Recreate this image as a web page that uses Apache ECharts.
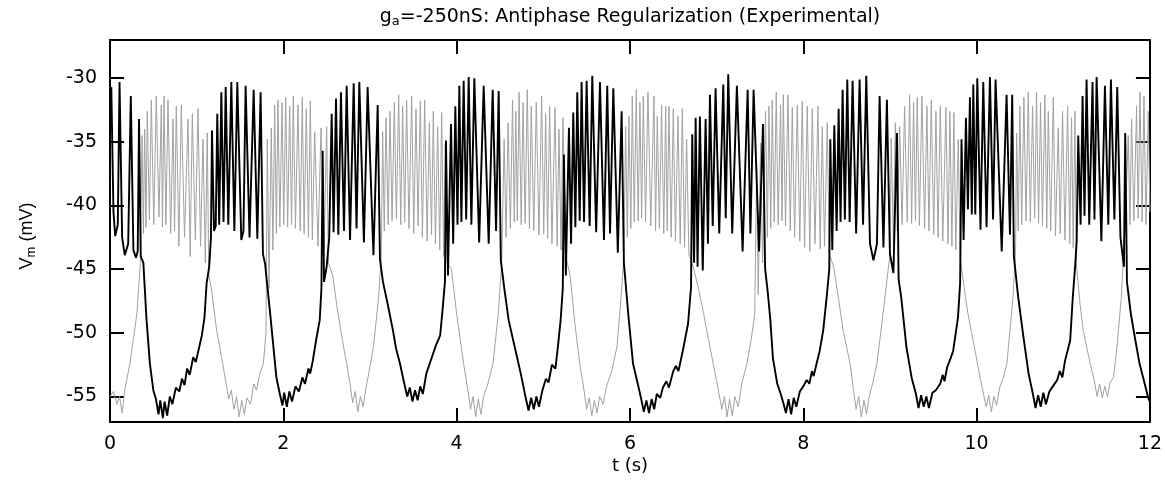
<!DOCTYPE html>
<html>
<head>
<meta charset="utf-8">
<script src="https://cdn.jsdelivr.net/npm/echarts@6/dist/echarts.min.js"></script>
<style>
  html, body { margin: 0; padding: 0; background: #fff; }
  #chart { width: 1165px; height: 483px; }
</style>
</head>
<body>
<div id="chart"></div>
<script>
// ---- Axis ticks ----
const xTicks = [0, 2, 4, 6, 8, 10, 12];
const yTicks = [-55, -50, -45, -40, -35, -30];

// ---- Black trace (neuron 1), [t (s), Vm (mV)], one array per cycle ----
const blackC1 = [[0,-31.5],[0.015,-30.7],[0.04,-40.5],[0.06,-42.4],[0.09,-41.5],[0.11,-30.3],[0.14,-42.5],[0.17,-43.9],[0.21,-43.0],[0.24,-31.4],[0.27,-43.5],[0.30,-44.1],[0.32,-43.6],[0.335,-33.2],[0.355,-44.0],[0.385,-44.5],[0.42,-48.8],[0.46,-52.4],[0.50,-54.5],[0.53,-55.2],[0.56,-56.4],[0.58,-55.3],[0.61,-56.7],[0.63,-55.4],[0.66,-56.5],[0.69,-55.0],[0.72,-55.6],[0.76,-54.3],[0.80,-54.6],[0.83,-53.6],[0.86,-54.1],[0.89,-52.8],[0.92,-53.3],[0.96,-51.9],[0.99,-52.3],[1.02,-51.4],[1.06,-50.2],[1.09,-48.8],[1.115,-46.1],[1.145,-44.8]];
const blackC2 = [[1.165,-42.5],[1.177,-34.1],[1.20,-42.0],[1.22,-41.6],[1.238,-32.8],[1.26,-41.5],[1.285,-31.1],[1.31,-41.3],[1.335,-30.7],[1.365,-41.5],[1.40,-30.3],[1.435,-42.0],[1.469,-30.3],[1.515,-42.7],[1.54,-42.0],[1.565,-30.6],[1.61,-42.5],[1.658,-30.9],[1.70,-42.6],[1.738,-31.1],[1.765,-43.8],[1.79,-44.6],[1.85,-48.6],[1.92,-53.5],[1.96,-54.8],[1.99,-55.7],[2.01,-54.7],[2.04,-55.8],[2.07,-54.6],[2.10,-55.4],[2.14,-54.2],[2.18,-54.6],[2.22,-53.5],[2.25,-54.0],[2.29,-52.8],[2.31,-53.2],[2.34,-52.2],[2.38,-50.5],[2.42,-49.0]];
const blackC3 = [[2.44,-46.5],[2.454,-35.7],[2.47,-46.0],[2.50,-44.8],[2.53,-42.5],[2.558,-32.8],[2.58,-42.1],[2.608,-31.6],[2.635,-42.3],[2.665,-31.1],[2.70,-42.0],[2.731,-30.6],[2.77,-42.7],[2.812,-30.4],[2.845,-41.8],[2.877,-30.3],[2.93,-42.9],[2.973,-30.7],[3.04,-43.9],[3.089,-32.1],[3.115,-44.2],[3.15,-46.0],[3.20,-47.6],[3.265,-49.8],[3.30,-51.2],[3.346,-52.4],[3.39,-53.8],[3.43,-55.0],[3.46,-54.3],[3.49,-55.4],[3.52,-54.5],[3.55,-55.3],[3.58,-54.2],[3.61,-54.8],[3.65,-53.2],[3.69,-52.4],[3.73,-51.6],[3.76,-51.0],[3.81,-50.2],[3.84,-48.0],[3.865,-46.0]];
const blackC4 = [[3.877,-34.9],[3.90,-45.5],[3.935,-33.6],[3.96,-43.0],[3.985,-32.2],[4.01,-41.5],[4.031,-30.6],[4.055,-41.3],[4.081,-30.2],[4.11,-41.1],[4.139,-29.9],[4.17,-41.5],[4.204,-30.0],[4.26,-42.9],[4.312,-30.6],[4.37,-43.0],[4.416,-30.9],[4.455,-42.0],[4.485,-31.0],[4.51,-44.3],[4.55,-46.5],[4.60,-49.0],[4.68,-51.4],[4.74,-53.2],[4.77,-54.2],[4.80,-55.2],[4.83,-56.1],[4.86,-55.1],[4.89,-56.0],[4.92,-55.0],[4.95,-55.8],[4.99,-54.5],[5.03,-53.6],[5.06,-53.9],[5.10,-52.5],[5.14,-52.8],[5.17,-51.0],[5.20,-49.0],[5.225,-46.5]];
const blackC5 = [[5.238,-36.0],[5.26,-45.5],[5.296,-33.9],[5.32,-43.0],[5.346,-32.7],[5.37,-41.7],[5.392,-31.1],[5.42,-41.2],[5.442,-30.3],[5.47,-41.3],[5.50,-30.2],[5.535,-41.6],[5.565,-29.8],[5.61,-42.1],[5.654,-30.3],[5.70,-42.7],[5.738,-30.6],[5.77,-42.2],[5.808,-30.8],[5.86,-43.7],[5.904,-32.6],[5.93,-44.5],[5.98,-48.5],[6.035,-52.4],[6.09,-54.0],[6.13,-55.2],[6.16,-56.2],[6.19,-55.3],[6.22,-56.3],[6.25,-55.2],[6.28,-56.0],[6.31,-54.8],[6.35,-55.1],[6.38,-54.3],[6.42,-53.8],[6.45,-54.3],[6.50,-53.0],[6.53,-52.6],[6.56,-53.0],[6.61,-51.4],[6.67,-49.3],[6.705,-46.4]];
const blackC6 = [[6.719,-34.4],[6.74,-44.5],[6.758,-33.1],[6.78,-44.8],[6.807,-33.0],[6.84,-45.1],[6.873,-33.2],[6.90,-43.0],[6.923,-31.3],[6.955,-41.6],[6.988,-30.8],[7.03,-42.2],[7.077,-30.5],[7.105,-41.0],[7.134,-29.7],[7.18,-42.2],[7.234,-30.6],[7.30,-43.6],[7.358,-30.9],[7.39,-42.2],[7.427,-30.9],[7.49,-43.6],[7.535,-33.6],[7.56,-45.0],[7.59,-46.8],[7.62,-49.0],[7.65,-52.0],[7.70,-54.0],[7.74,-54.8],[7.77,-55.5],[7.80,-56.3],[7.83,-55.2],[7.86,-56.4],[7.89,-55.1],[7.92,-55.8],[7.96,-54.6],[8.00,-54.2],[8.04,-53.7],[8.07,-54.0],[8.10,-53.0],[8.12,-53.4],[8.15,-52.5],[8.19,-51.4],[8.23,-49.8],[8.27,-47.2],[8.30,-45.0]];
const blackC7 = [[8.312,-34.8],[8.335,-43.5],[8.358,-33.7],[8.385,-42.0],[8.408,-32.4],[8.43,-41.3],[8.454,-30.9],[8.48,-41.1],[8.508,-30.1],[8.535,-41.3],[8.569,-30.2],[8.61,-42.2],[8.65,-30.1],[8.69,-41.5],[8.727,-29.8],[8.77,-43.0],[8.81,-44.3],[8.85,-43.0],[8.881,-31.4],[8.925,-43.3],[8.965,-31.7],[9.00,-43.8],[9.04,-45.3],[9.081,-34.3],[9.10,-45.8],[9.13,-47.2],[9.19,-51.1],[9.25,-53.5],[9.30,-54.8],[9.33,-55.9],[9.36,-54.9],[9.39,-55.8],[9.42,-55.0],[9.45,-55.9],[9.49,-54.7],[9.53,-54.5],[9.58,-54.0],[9.61,-53.3],[9.63,-53.8],[9.66,-52.7],[9.70,-52.0],[9.73,-51.4],[9.785,-48.8],[9.81,-46.1]];
const blackC8 = [[9.826,-34.8],[9.85,-42.7],[9.877,-33.1],[9.90,-40.3],[9.923,-31.5],[9.945,-40.7],[9.962,-30.5],[9.985,-40.7],[10.008,-30.0],[10.045,-41.9],[10.077,-30.3],[10.115,-41.7],[10.154,-29.9],[10.19,-41.1],[10.219,-30.1],[10.29,-43.6],[10.346,-31.3],[10.385,-42.3],[10.411,-31.3],[10.43,-44.0],[10.48,-47.2],[10.54,-50.3],[10.60,-53.2],[10.65,-54.8],[10.68,-55.9],[10.71,-54.9],[10.74,-55.8],[10.77,-54.7],[10.80,-55.6],[10.84,-54.6],[10.88,-54.2],[10.93,-53.7],[10.96,-53.0],[10.99,-53.5],[11.02,-52.2],[11.08,-50.6],[11.11,-47.2],[11.14,-44.5]];
const blackC9 = [[11.155,-42.8],[11.173,-34.5],[11.20,-41.5],[11.223,-31.4],[11.245,-40.8],[11.269,-30.1],[11.30,-41.5],[11.338,-30.3],[11.36,-41.1],[11.385,-29.9],[11.44,-42.8],[11.481,-30.6],[11.52,-41.5],[11.55,-30.1],[11.59,-41.1],[11.623,-30.7],[11.66,-42.5],[11.70,-44.8],[11.715,-34.3],[11.735,-46.0],[11.78,-48.5],[11.83,-50.5],[11.88,-52.4],[11.94,-54.0],[11.98,-55.1],[12.0,-55.4]];

// ---- Gray trace (neuron 2), [t (s), Vm (mV)] ----
const grayC1 = [[0,-55.0],[0.04,-54.6],[0.08,-55.6],[0.11,-55.0],[0.14,-56.3],[0.17,-54.5],[0.23,-52.4],[0.27,-50.5],[0.31,-48.5],[0.35,-44.5],[0.37,-34.5],[0.385,-42.2],[0.40,-34.0],[0.415,-41.7],[0.43,-32.6],[0.455,-41.1],[0.477,-31.7],[0.505,-41.5],[0.534,-31.4],[0.565,-40.9],[0.592,-32.1],[0.605,-41.7],[0.623,-31.4],[0.645,-41.5],[0.669,-31.7],[0.70,-42.2],[0.727,-33.2],[0.745,-42.0],[0.765,-32.2],[0.795,-43.2],[0.823,-32.1],[0.86,-42.5],[0.90,-33.2],[0.925,-44.0],[0.95,-32.8],[0.985,-42.7],[1.015,-32.4],[1.045,-43.2],[1.073,-34.8],[1.10,-44.5],[1.122,-34.3],[1.14,-45.5],[1.17,-46.5],[1.23,-49.8],[1.30,-52.4],[1.34,-54.0],[1.37,-55.2],[1.40,-54.5],[1.43,-56.0],[1.46,-55.0],[1.49,-56.6],[1.52,-55.3],[1.55,-56.4],[1.58,-55.1],[1.62,-55.6],[1.66,-54.0],[1.69,-54.5],[1.73,-53.2],[1.77,-52.4],[1.80,-50.0]];
const grayC2 = [[1.815,-34.8],[1.835,-46.5],[1.861,-33.9],[1.88,-43.5],[1.90,-32.1],[1.92,-42.2],[1.938,-31.7],[1.96,-41.7],[1.985,-31.9],[2.005,-41.5],[2.027,-31.5],[2.05,-41.7],[2.073,-32.2],[2.095,-41.5],[2.115,-31.4],[2.14,-41.8],[2.169,-32.1],[2.195,-42.0],[2.219,-31.5],[2.24,-42.2],[2.265,-32.4],[2.29,-42.5],[2.311,-31.8],[2.335,-42.7],[2.362,-34.2],[2.40,-43.2],[2.435,-33.9],[2.47,-43.5],[2.50,-33.8],[2.52,-44.5],[2.57,-45.5],[2.62,-48.0],[2.68,-50.5],[2.73,-52.4],[2.77,-54.0],[2.80,-55.5],[2.83,-54.6],[2.86,-56.2],[2.89,-55.0],[2.92,-55.8],[2.95,-54.5],[2.99,-53.0],[3.04,-51.1],[3.10,-47.2],[3.13,-44.0]];
const grayC3 = [[3.146,-34.2],[3.165,-42.0],[3.185,-33.1],[3.21,-41.5],[3.231,-32.6],[3.255,-41.2],[3.281,-31.9],[3.305,-41.0],[3.331,-31.3],[3.355,-41.5],[3.377,-32.2],[3.40,-41.3],[3.423,-31.7],[3.45,-41.8],[3.481,-31.4],[3.505,-42.2],[3.531,-32.4],[3.555,-41.6],[3.581,-31.8],[3.605,-42.5],[3.631,-31.7],[3.66,-42.8],[3.685,-33.5],[3.71,-42.3],[3.731,-32.6],[3.755,-43.0],[3.781,-33.8],[3.805,-43.5],[3.827,-32.7],[3.85,-44.0],[3.869,-35.1],[3.89,-44.5],[3.94,-45.0],[4.00,-48.5],[4.08,-52.4],[4.13,-54.5],[4.16,-56.0],[4.19,-55.0],[4.22,-56.6],[4.25,-55.2],[4.28,-56.4],[4.31,-55.0],[4.36,-54.0],[4.42,-52.4],[4.48,-48.5],[4.52,-44.5]];
const grayC4 = [[4.548,-34.8],[4.57,-42.5],[4.594,-33.5],[4.62,-41.8],[4.645,-31.7],[4.665,-41.3],[4.683,-32.6],[4.70,-41.2],[4.721,-31.1],[4.745,-41.5],[4.767,-31.9],[4.79,-41.4],[4.815,-30.9],[4.84,-41.8],[4.861,-32.2],[4.89,-42.0],[4.919,-31.9],[4.95,-42.3],[4.981,-31.4],[5.005,-42.2],[5.027,-32.8],[5.05,-42.6],[5.073,-32.2],[5.10,-43.0],[5.135,-32.3],[5.16,-43.2],[5.181,-34.0],[5.205,-43.5],[5.227,-33.1],[5.26,-44.0],[5.31,-45.5],[5.36,-49.0],[5.42,-52.4],[5.47,-54.5],[5.50,-56.0],[5.53,-55.1],[5.56,-56.5],[5.59,-55.3],[5.62,-56.3],[5.65,-55.0],[5.69,-55.6],[5.73,-54.2],[5.79,-53.0],[5.85,-51.1],[5.90,-47.0],[5.93,-44.0]];
const grayC5 = [[5.95,-33.8],[5.97,-42.5],[5.988,-33.0],[6.01,-41.8],[6.027,-31.4],[6.05,-41.3],[6.073,-30.9],[6.095,-41.2],[6.115,-31.9],[6.135,-41.0],[6.154,-31.4],[6.18,-41.3],[6.208,-31.1],[6.24,-41.6],[6.277,-31.4],[6.295,-42.0],[6.315,-33.0],[6.34,-41.8],[6.365,-32.1],[6.39,-42.2],[6.412,-32.2],[6.43,-42.0],[6.45,-32.2],[6.475,-42.5],[6.50,-32.4],[6.525,-42.8],[6.554,-33.0],[6.58,-43.0],[6.604,-32.4],[6.63,-43.3],[6.654,-34.8],[6.68,-43.8],[6.73,-44.8],[6.79,-46.5],[6.85,-48.5],[6.96,-52.4],[7.02,-54.5],[7.06,-56.0],[7.09,-55.0],[7.12,-56.6],[7.15,-55.2],[7.18,-56.5],[7.21,-55.0],[7.25,-55.8],[7.29,-54.0],[7.35,-52.4],[7.40,-50.5],[7.44,-48.5]];
const grayC6 = [[7.462,-36.9],[7.48,-47.0],[7.508,-35.1],[7.53,-44.5],[7.565,-32.6],[7.585,-42.5],[7.604,-32.2],[7.625,-41.8],[7.642,-31.7],[7.665,-41.3],[7.688,-31.1],[7.71,-41.5],[7.738,-32.1],[7.755,-41.2],[7.769,-31.3],[7.795,-41.6],[7.823,-31.3],[7.85,-42.0],[7.873,-32.3],[7.90,-42.5],[7.931,-32.1],[7.96,-42.8],[7.988,-31.8],[8.015,-43.3],[8.046,-32.2],[8.075,-43.6],[8.104,-32.4],[8.135,-43.0],[8.169,-32.2],[8.195,-43.4],[8.219,-33.8],[8.245,-43.2],[8.277,-33.5],[8.30,-43.8],[8.35,-44.8],[8.40,-47.0],[8.46,-49.8],[8.54,-52.4],[8.58,-54.5],[8.61,-56.0],[8.64,-55.0],[8.67,-56.6],[8.70,-55.3],[8.73,-56.4],[8.76,-55.0],[8.80,-54.0],[8.85,-52.4],[8.92,-48.5],[8.98,-45.0],[9.0,-44.0]];
const grayC7 = [[9.015,-34.7],[9.04,-43.0],[9.062,-33.5],[9.085,-42.0],[9.112,-33.8],[9.14,-41.5],[9.169,-32.2],[9.20,-41.3],[9.227,-31.3],[9.25,-41.4],[9.273,-31.9],[9.295,-41.2],[9.315,-31.5],[9.34,-41.6],[9.369,-31.4],[9.40,-41.8],[9.427,-32.2],[9.45,-42.0],[9.477,-31.7],[9.505,-42.3],[9.531,-32.6],[9.555,-42.5],[9.581,-32.2],[9.61,-42.8],[9.646,-32.3],[9.67,-43.0],[9.692,-32.6],[9.715,-43.2],[9.738,-32.7],[9.76,-43.5],[9.788,-34.8],[9.81,-44.0],[9.845,-45.9],[9.90,-48.5],[9.96,-50.6],[10.04,-53.5],[10.08,-54.8],[10.11,-55.8],[10.14,-54.9],[10.17,-56.2],[10.20,-55.0],[10.23,-55.7],[10.27,-54.2],[10.31,-53.5],[10.35,-52.4],[10.42,-47.2],[10.45,-43.5]];
const grayC8 = [[10.462,-34.3],[10.48,-42.0],[10.50,-32.2],[10.52,-41.5],[10.546,-31.5],[10.57,-41.2],[10.596,-31.1],[10.62,-41.3],[10.646,-32.2],[10.67,-41.0],[10.692,-31.1],[10.715,-41.4],[10.738,-31.9],[10.76,-41.6],[10.788,-31.3],[10.81,-41.8],[10.827,-32.6],[10.855,-42.0],[10.885,-31.5],[10.91,-42.4],[10.942,-33.9],[10.965,-42.2],[10.992,-32.6],[11.02,-42.7],[11.05,-32.2],[11.075,-43.0],[11.096,-33.1],[11.115,-43.3],[11.135,-32.6],[11.15,-44.5],[11.19,-47.5],[11.23,-49.8],[11.31,-52.4],[11.36,-53.8],[11.39,-55.0],[11.42,-54.0],[11.45,-55.1],[11.48,-54.2],[11.51,-55.0],[11.54,-53.9],[11.58,-53.5],[11.62,-51.1],[11.67,-47.2],[11.71,-42.0]];
const grayC9 = [[11.75,-34.5],[11.77,-41.5],[11.788,-33.2],[11.815,-41.2],[11.846,-32.2],[11.865,-41.0],[11.885,-31.1],[11.91,-41.3],[11.931,-31.4],[11.955,-41.5],[11.981,-32.6],[12.0,-40.5]];

const blackTrace = [].concat(blackC1, blackC2, blackC3, blackC4, blackC5, blackC6, blackC7, blackC8, blackC9);
const grayTrace = [].concat(grayC1, grayC2, grayC3, grayC4, grayC5, grayC6, grayC7, grayC8, grayC9);

const FONT = '"DejaVu Sans", "Liberation Sans", Arial, sans-serif';
const FONT2 = '"Liberation Sans", Arial, Helvetica, sans-serif';
const chart = echarts.init(document.getElementById('chart'), null, { renderer: 'canvas' });

const tickStyle = { show: true, inside: true, length: 14, lineStyle: { color: '#000', width: 2 } };
const lineStyleAxis = { show: true, onZero: false, lineStyle: { color: '#000', width: 2 } };

chart.setOption({
  animation: false,
  backgroundColor: '#fff',
  grid: { left: 110, right: 15, top: 40, bottom: 61, containLabel: false },
  xAxis: [
    { type: 'value', position: 'bottom', min: 0, max: 12, interval: 2,
      axisLine: lineStyleAxis, axisTick: tickStyle, splitLine: { show: false },
      axisLabel: { fontSize: 19, color: '#000', fontFamily: FONT, margin: 13 } },
    { type: 'value', position: 'top', min: 0, max: 12, interval: 2,
      axisLine: lineStyleAxis, axisTick: tickStyle, splitLine: { show: false },
      axisLabel: { show: false } }
  ],
  yAxis: [
    { type: 'value', position: 'left', min: -57, max: -27,
      axisLine: lineStyleAxis,
      axisTick: Object.assign({}, tickStyle, { customValues: yTicks }),
      splitLine: { show: false },
      axisLabel: { customValues: yTicks, fontSize: 19, color: '#000', fontFamily: FONT, margin: 13 } },
    { type: 'value', position: 'right', min: -57, max: -27,
      axisLine: lineStyleAxis,
      axisTick: Object.assign({}, tickStyle, { customValues: yTicks }),
      splitLine: { show: false },
      axisLabel: { show: true, customValues: yTicks, formatter: function () { return ''; } } }
  ],
  graphic: [
    { type: 'text', x: 630, y: 17, silent: true,
      style: { text: '{n|g}{s|a}{n|=-250nS: Antiphase Regularization (Experimental)}',
        align: 'center', verticalAlign: 'middle', fill: '#000',
        rich: { n: { fontSize: 19, fontFamily: FONT, lineHeight: 22, verticalAlign: 'middle' },
                s: { fontSize: 13, fontFamily: FONT, lineHeight: 13, verticalAlign: 'bottom' } } } },
    { type: 'text', x: 630, y: 466, silent: true,
      style: { text: 't (s)', font: '18px ' + FONT, align: 'center', verticalAlign: 'middle', fill: '#000' } },
    { type: 'text', x: 27, y: 236, rotation: Math.PI / 2, silent: true,
      style: { text: '{n|V}{s|m}{n| (mV)}', align: 'center', verticalAlign: 'middle', fill: '#000',
        rich: { n: { fontSize: 18, fontFamily: FONT2, lineHeight: 22, verticalAlign: 'middle' },
                s: { fontSize: 13, fontFamily: FONT2, lineHeight: 13, verticalAlign: 'bottom' } } } }
  ],
  series: [
    { name: 'gray', type: 'line', data: grayTrace, xAxisIndex: 0, yAxisIndex: 0,
      showSymbol: false, symbol: 'none', silent: true, z: 2,
      lineStyle: { color: '#a2a2a2', width: 1 } },
    { name: 'black', type: 'line', data: blackTrace, xAxisIndex: 0, yAxisIndex: 0,
      showSymbol: false, symbol: 'none', silent: true, z: 3,
      lineStyle: { color: '#000', width: 1.9 } }
  ]
});
</script>
</body>
</html>
